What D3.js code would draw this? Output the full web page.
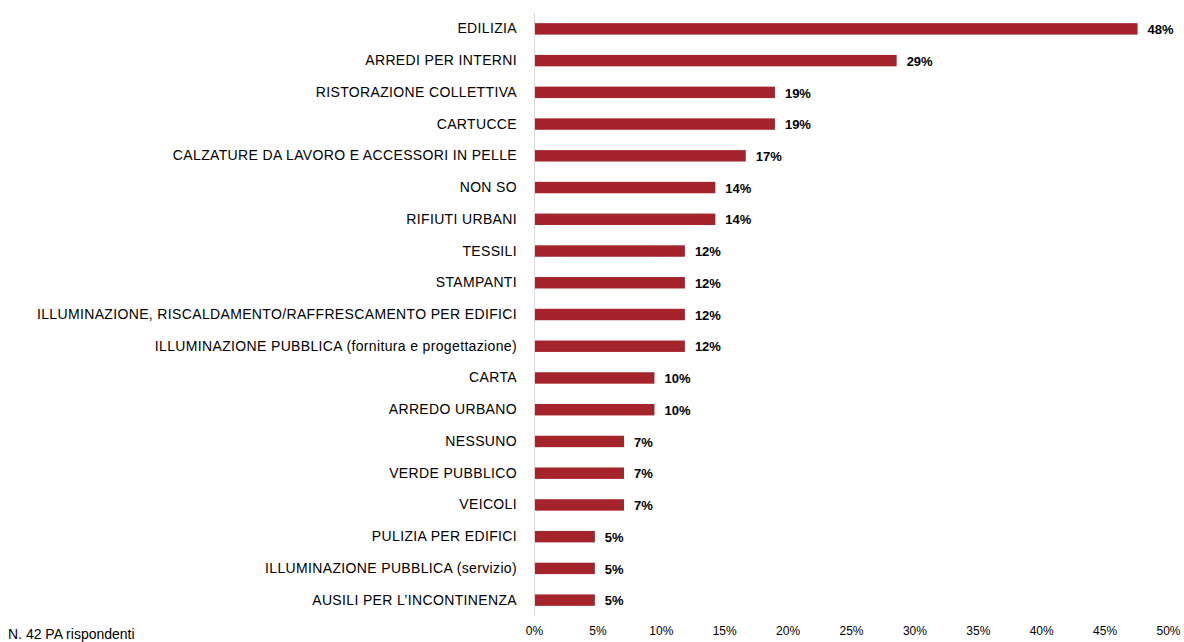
<!DOCTYPE html>
<html>
<head>
<meta charset="utf-8">
<script src="https://cdn.jsdelivr.net/npm/d3@7"></script>
<style>
  body { margin: 0; background: #fff; }
  svg { font-family: "Liberation Sans", Arial, sans-serif; }
</style>
</head>
<body>
<script>
// categories, top to bottom
var categories = [
  'EDILIZIA',
  'ARREDI PER INTERNI',
  'RISTORAZIONE COLLETTIVA',
  'CARTUCCE',
  'CALZATURE DA LAVORO E ACCESSORI IN PELLE',
  'NON SO',
  'RIFIUTI URBANI',
  'TESSILI',
  'STAMPANTI',
  'ILLUMINAZIONE, RISCALDAMENTO/RAFFRESCAMENTO PER EDIFICI',
  'ILLUMINAZIONE PUBBLICA (fornitura e progettazione)',
  'CARTA',
  'ARREDO URBANO',
  'NESSUNO',
  'VERDE PUBBLICO',
  'VEICOLI',
  'PULIZIA PER EDIFICI',
  'ILLUMINAZIONE PUBBLICA (servizio)',
  'AUSILI PER L\u2019INCONTINENZA'
];
// share of the 42 respondents, percent
var values = [47.6, 28.6, 19.0, 19.0, 16.7, 14.3, 14.3, 11.9, 11.9, 11.9, 11.9, 9.5, 9.5, 7.1, 7.1, 7.1, 4.8, 4.8, 4.8];
var ticks = [0, 5, 10, 15, 20, 25, 30, 35, 40, 45, 50];
var note = 'N. 42 PA rispondenti';

var w = 1184, h = 642;
var barColor = '#a5232a';
var font = '"Liberation Sans", Arial, sans-serif';

var svg = d3.select('body').append('svg')
    .attr('width', w)
    .attr('height', h);

var x = d3.scaleLinear().domain([0, 50]).range([534, 1168]);
var y = d3.scaleBand().domain(categories).range([13, 616]).paddingInner(0.64).paddingOuter(0.32);

// bars
svg.append('g').selectAll('rect')
    .data(values)
    .enter().append('rect')
    .attr('x', x(0))
    .attr('y', function(d, i) { return y(categories[i]); })
    .attr('width', function(d) { return x(d) - x(0); })
    .attr('height', y.bandwidth())
    .attr('fill', barColor);

// value labels
svg.append('g').selectAll('text')
    .data(values)
    .enter().append('text')
    .attr('x', function(d) { return x(d) + 10; })
    .attr('y', function(d, i) { return y(categories[i]) + y.bandwidth() / 2; })
    .attr('dy', '0.4em')
    .attr('font-size', 13)
    .attr('font-weight', 'bold')
    .attr('fill', '#000')
    .text(function(d) { return Math.round(d) + '%'; });

// category axis
var yAxis = svg.append('g')
    .attr('transform', 'translate(' + x(0) + ',0)')
    .call(d3.axisLeft(y).tickSize(0).tickPadding(17));
yAxis.select('.domain').attr('stroke', '#d9d9d9');
yAxis.selectAll('text')
    .attr('font-family', font)
    .attr('font-size', 14)
    .attr('letter-spacing', 0.35)
    .attr('fill', '#000');

// value axis (labels only)
var xAxis = svg.append('g')
    .attr('transform', 'translate(0,620)')
    .call(d3.axisBottom(x).tickValues(ticks).tickSize(0).tickPadding(6)
        .tickFormat(function(d) { return d + '%'; }));
xAxis.select('.domain').remove();
xAxis.selectAll('text')
    .attr('font-family', font)
    .attr('font-size', 12)
    .attr('fill', '#000');

svg.append('text')
    .attr('x', 8)
    .attr('y', 639)
    .attr('font-size', 14)
    .attr('fill', '#000')
    .text(note);
</script>
</body>
</html>
